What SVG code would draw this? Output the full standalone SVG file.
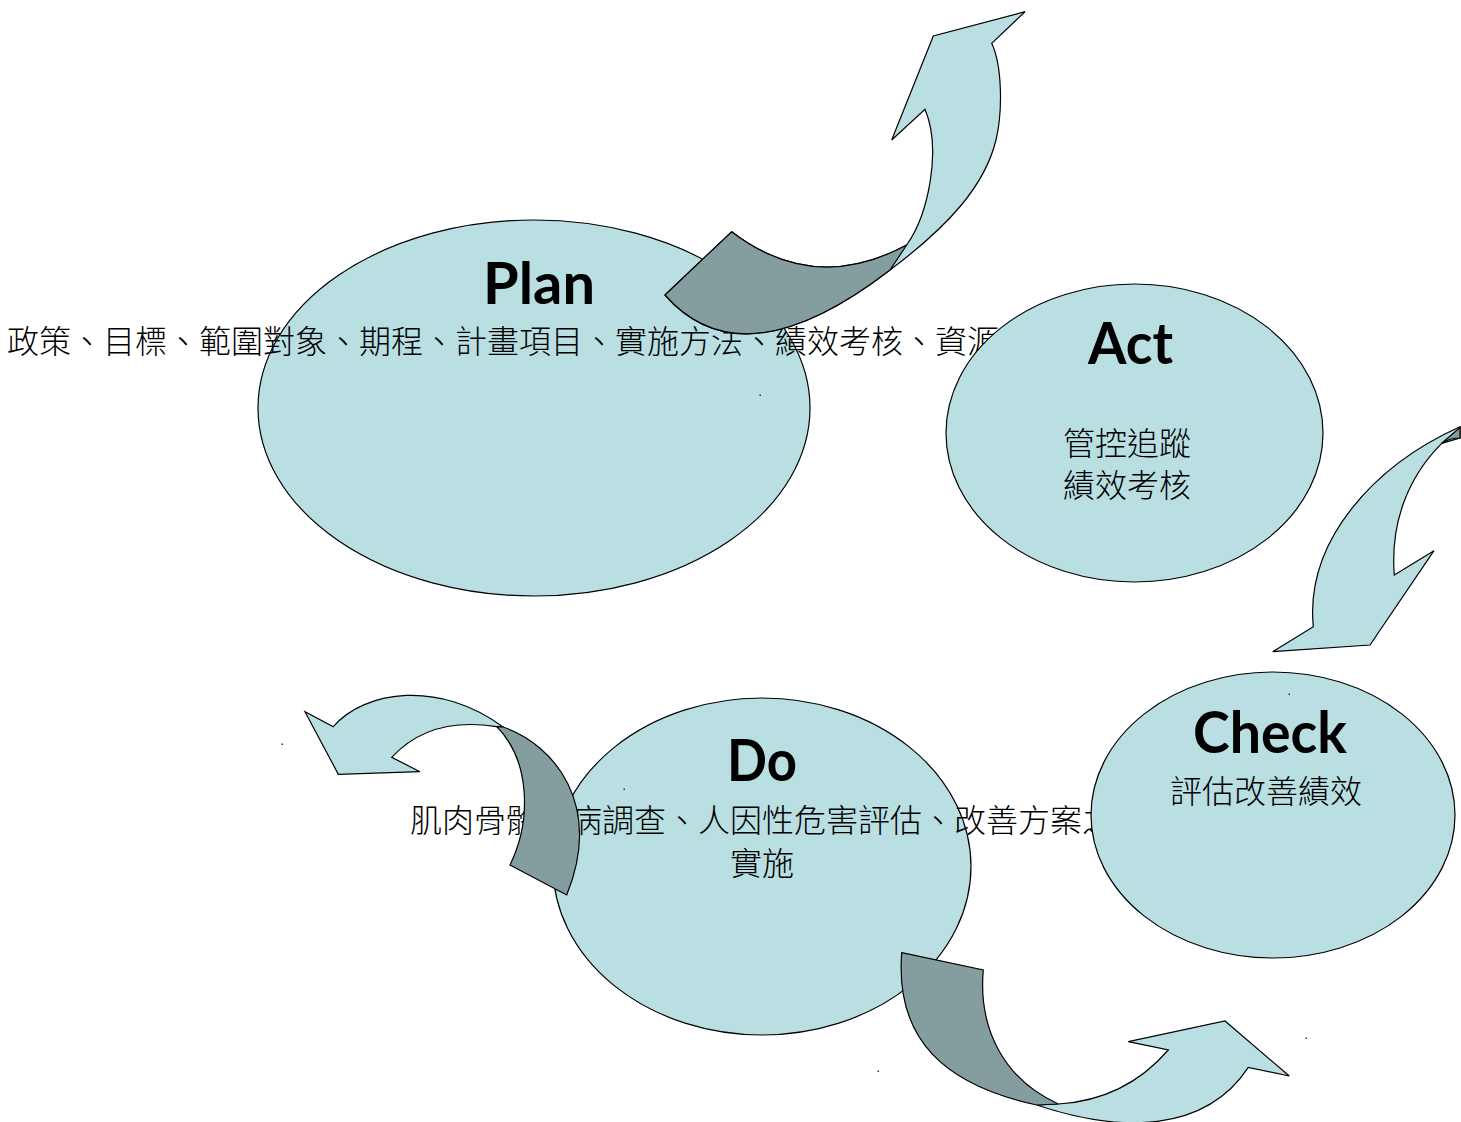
<svg xmlns="http://www.w3.org/2000/svg" width="1461" height="1122" viewBox="0 0 1461 1122">
<style>
.node{fill:#b9dfe3;stroke:#000;stroke-width:1.2}
.light{fill:#b9dfe3;stroke:#000;stroke-width:1.2;stroke-linejoin:miter}
.dark{fill:#849e9f;stroke:#000;stroke-width:1.2}
.title{font-family:Lato,"Open Sans","Liberation Sans",sans-serif;font-weight:bold;font-size:58px;fill:#000;text-anchor:middle}
.body{font-family:"Noto Sans CJK TC","Noto Sans CJK SC",sans-serif;font-size:32px;font-weight:300;fill:#000}
.mid{text-anchor:middle}
.dot{fill:#333}
</style>
<rect width="1461" height="1122" fill="#fff"/>
<g id="plan">
<ellipse class="node" cx="534" cy="408" rx="276" ry="188"/>
<text class="title" x="539" y="304" textLength="112" lengthAdjust="spacingAndGlyphs">Plan</text>
<text class="body" x="7" y="353">政策、目標、範圍對象、期程、計畫項目、實施方法、績效考核、資源</text>
</g>
<g id="do">
<ellipse class="node" cx="762" cy="866.5" rx="209" ry="168.5"/>
<text class="title" x="762" y="781" textLength="70" lengthAdjust="spacingAndGlyphs">Do</text>
<text class="body mid" x="762" y="832">肌肉骨骼傷病調查、人因性危害評估、改善方案之</text>
<text class="body mid" x="762" y="875">實施</text>
</g>
<g id="connectors">
<g id="arrow-plan-act">
<path class="light" d="M665,295 L731.7,231.7 Q814,295 906.7,245 C928,215 942,150 925,109.3 L891.7,140 L933.3,36 L1025,11.7 L991.7,43.3 C1002,65 1003,110 996,140 C985,185 950,225 890,270 Q742.5,383.5 665,295 Z"/>
<path class="dark" d="M665,295 L731.7,231.7 Q814,295 906.7,245 L890,270 Q742.5,383.5 665,295 Z"/>
</g>
<g id="arrow-act-check">
<path class="light" d="M1460,426.7 C1375,465 1305,540 1313.3,626.7 L1272.7,651.7 L1370,645 L1434,550.7 L1394.3,575 C1390,520 1410,475 1441.7,443.3 L1460,438 Z"/>
<path class="dark" d="M1441.7,443.3 L1460,427.5 L1460,438 Q1450,438 1441.7,443.3 Z"/>
</g>
<g id="arrow-do-plan">
<path class="light" d="M503,727 C440,680 365,690 333.3,726.7 L305,711.7 L338.3,774.3 L420,771.7 L391.7,757.3 Q430,716 496.7,726.7 Z"/>
<path class="dark" d="M496.7,726.7 L503,727 C555,745 603,805 566.7,895 L510,865 C532,820 530,760 496.7,726.7 Z"/>
</g>
<g id="arrow-do-check">
<path class="light" d="M1036.7,1105 C1120,1133 1205,1133 1248.3,1067.3 L1289.3,1076 L1225,1021 L1128.3,1041.7 L1168.3,1050 Q1125,1100 1058.3,1104 Z"/>
<path class="dark" d="M901.7,952.7 L983.3,970 C978,1030 1005,1080 1058.3,1104 L1036.7,1105 C945,1085 895,1040 901.7,952.7 Z"/>
</g>
</g>
<g id="act">
<ellipse class="node" cx="1134.5" cy="433" rx="188.5" ry="149"/>
<text class="title" x="1130.5" y="364" textLength="85" lengthAdjust="spacingAndGlyphs">Act</text>
<text class="body mid" x="1127" y="455">管控追蹤</text>
<text class="body mid" x="1127" y="497">績效考核</text>
</g>
<g id="check">
<ellipse class="node" cx="1273" cy="815" rx="182" ry="143"/>
<text class="title" x="1270" y="753" textLength="154" lengthAdjust="spacingAndGlyphs">Check</text>
<text class="body mid" x="1266" y="803">評估改善績效</text>
</g>
<g id="specks">
<rect class="dot" x="759.5" y="394.5" width="1.5" height="1.5"/>
<rect class="dot" x="623.5" y="788.5" width="1.5" height="1.5"/>
<rect class="dot" x="281.5" y="743.5" width="1.5" height="1.5"/>
<rect class="dot" x="1288.5" y="693.5" width="1.5" height="1.5"/>
<rect class="dot" x="1305.5" y="1037.5" width="1.5" height="1.5"/>
<rect class="dot" x="877.5" y="1070.5" width="1.5" height="1.5"/>
</g>
</svg>
